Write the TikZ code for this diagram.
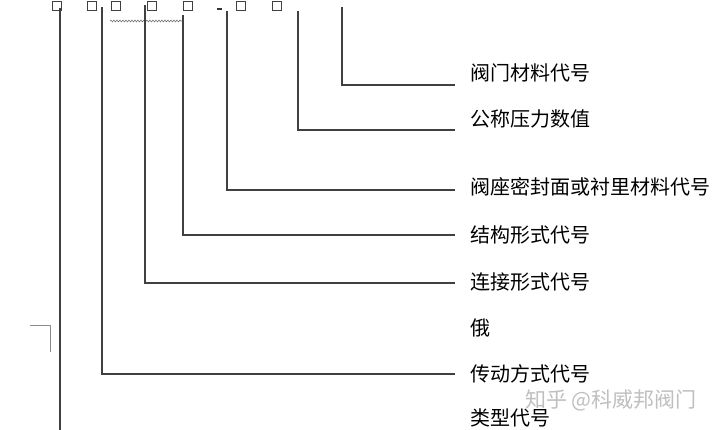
\documentclass[tikz,border=0pt]{standalone}
\usepackage{fontspec}
\newfontfamily\cjk{Noto Sans CJK SC}
\usetikzlibrary{decorations.pathmorphing}
\begin{document}
\begin{tikzpicture}[x=1pt,y=-1pt,
  sq/.style={draw=black!75,line width=0.9pt,minimum size=8.5pt,inner sep=0pt},
  lead/.style={draw=black!75,line width=1.4pt},
  lbl/.style={anchor=west,inner sep=0pt,font=\cjk\fontsize{20}{24}\selectfont,text=black},
  wm/.style={anchor=west,inner sep=0pt,font=\cjk\fontsize{21}{24}\selectfont,text=black!25}]
\useasboundingbox[fill=white] (0,0) rectangle (720,430);
% code squares
\node[sq] (s1) at (57,6) {};
\node[sq] (s2) at (92,6) {};
\node[sq] (s3) at (116,6) {};
\node[sq] (s4) at (152,6) {};
\node[sq] (s5) at (188,6) {};
\node[sq] (s6) at (241,6) {};
\node[sq] (s7) at (277,6) {};
\fill[black!80] (217,8) rectangle (222,10.5);
% wavy underline
\draw[black!55,line width=0.6pt,decorate,decoration={snake,segment length=3pt,amplitude=0.9pt}] (110,21) -- (182,21);
% labels
\node[lbl] (l1) at (470,73) {阀门材料代号};
\node[lbl] (l2) at (470,119) {公称压力数值};
\node[lbl] (l3) at (470,187) {阀座密封面或衬里材料代号};
\node[lbl] (l4) at (470,235) {结构形式代号};
\node[lbl] (l5) at (470,282) {连接形式代号};
\node[lbl] (l6) at (470,328) {俄};
\node[lbl] (l7) at (470,374) {传动方式代号};
\node[lbl] (l8) at (470,418) {类型代号};
\node[wm] (w) at (525,400) {知乎 @科威邦阀门};
% leader coordinates
\coordinate (t1) at (342,7);   \coordinate (e1) at (455,85);
\coordinate (t2) at (298,11);  \coordinate (e2) at (455,130);
\coordinate (t3) at (227,11);  \coordinate (e3) at (455,190);
\coordinate (t4) at (183,15);  \coordinate (e4) at (455,235);
\coordinate (t5) at (145,5);   \coordinate (e5) at (455,283);
\coordinate (t7) at (102,7);   \coordinate (e7) at (455,374);
\coordinate (t8) at (60,8);    \coordinate (e8) at (60,430);
\draw[lead] (t1) |- (e1);
\draw[lead] (t2) |- (e2);
\draw[lead] (t3) |- (e3);
\draw[lead] (t4) |- (e4);
\draw[lead] (t5) |- (e5);
\draw[lead] (t7) |- (e7);
\draw[lead] (t8) -- (e8);
% small corner mark
\coordinate (c1) at (30,325); \coordinate (c2) at (50,325); \coordinate (c3) at (50,352);
\draw[black!45,line width=0.8pt] (c1) -- (c2) -- (c3);
\end{tikzpicture}
\end{document}
